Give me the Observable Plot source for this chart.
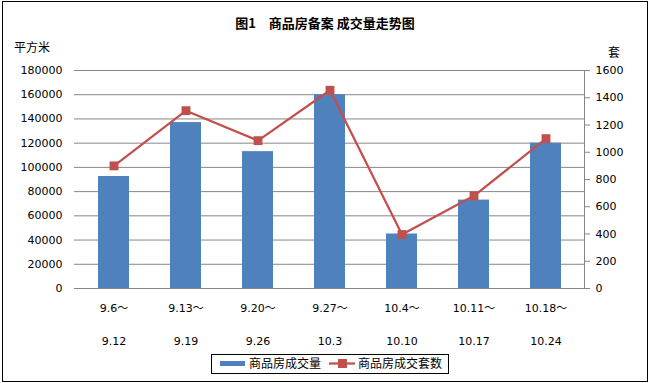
<!DOCTYPE html>
<html>
<head>
<meta charset="utf-8">
<script src="https://cdn.jsdelivr.net/npm/d3@7"></script>
<script src="https://cdn.jsdelivr.net/npm/@observablehq/plot@0.6"></script>
<style>
  html, body { margin: 0; padding: 0; background: #fff; }
  #chart svg { display: block; }
</style>
</head>
<body>
<div id="chart"></div>
<script>
const periodStart = ["9.6～", "9.13～", "9.20～", "9.27～", "10.4～", "10.11～", "10.18～"];
const periodEnd = ["9.12", "9.19", "9.26", "10.3", "10.10", "10.17", "10.24"];
const area = [92500, 137000, 113000, 160000, 45000, 73000, 120000];
const units = [900, 1305, 1085, 1455, 396, 680, 1100];
const leftTicks = [0, 20000, 40000, 60000, 80000, 100000, 120000, 140000, 160000, 180000];
const rightTicks = [0, 200, 400, 600, 800, 1000, 1200, 1400, 1600];
const titleText = "图1　商品房备案 成交量走势图";
const leftUnit = "平方米";
const rightUnit = "套";
const seriesNames = ["商品房成交量", "商品房成交套数"];

const ratio = 180000 / 1600;
const rows = periodStart.map((s, i) => ({key: s + "|" + periodEnd[i], start: s, end: periodEnd[i], area: area[i], units: units[i]}));
const keys = rows.map(d => d.key);

const BLUE = "#4F81BD", RED = "#C0504D", GRID = "#878787";
const FONT = "'DejaVu Sans', 'Noto Sans CJK SC', sans-serif";

const chart = Plot.plot({
  width: 650,
  height: 383,
  marginLeft: 74,
  marginRight: 66,
  marginTop: 70,
  marginBottom: 95,
  style: {fontFamily: FONT, fontSize: "11px", color: "#000", background: "#fff"},
  x: {domain: keys, paddingInner: 0.575, paddingOuter: 0.2875},
  y: {domain: [0, 180000]},
  marks: [
    Plot.ruleY(leftTicks, {stroke: GRID, strokeWidth: 1}),
    Plot.frame({anchor: "right", stroke: GRID}),
    Plot.barY(rows, {x: "key", y: "area", fill: BLUE}),
    Plot.line(rows, {x: "key", y: d => d.units * ratio, stroke: RED, strokeWidth: 2.25}),
    Plot.dot(rows, {x: "key", y: d => d.units * ratio, symbol: "square", r: 5, fill: RED, stroke: "none"}),
    Plot.axisY(leftTicks, {anchor: "left", tickSize: 0, tickPadding: 12, tickFormat: d => String(d), label: null, fontSize: 11}),
    Plot.axisY(rightTicks.map(v => v * ratio), {anchor: "right", tickSize: 5, tickPadding: 6, stroke: GRID, tickFormat: d => String(Math.round(d / ratio)), label: null, fontSize: 11}),
    Plot.axisX({tickSize: 0, tickPadding: 16, tickFormat: k => k.split("|")[0], label: null, fontSize: 11}),
    Plot.axisX({tickSize: 0, tickPadding: 49, tickFormat: k => k.split("|")[1], label: null, fontSize: 11})
  ]
});
document.getElementById("chart").appendChild(chart);

const svg = d3.select(chart);
const CJK = "'Noto Sans CJK SC', sans-serif";
// outer border
svg.append("rect").attr("x", 2.5).attr("y", 1.5).attr("width", 645).attr("height", 380)
  .attr("fill", "none").attr("stroke", "#000").attr("stroke-width", 1);
// title
svg.append("text").attr("x", 325).attr("y", 28).attr("text-anchor", "middle")
  .attr("font-family", CJK).attr("font-weight", "bold").attr("font-size", 13)
  .attr("fill", "#000").text(titleText);
// unit labels
svg.append("text").attr("x", 14).attr("y", 52).attr("text-anchor", "start").attr("font-family", CJK)
  .attr("font-size", 12).attr("fill", "#000").text(leftUnit);
svg.append("text").attr("x", 608).attr("y", 57).attr("text-anchor", "start").attr("font-family", CJK)
  .attr("font-size", 12).attr("fill", "#000").text(rightUnit);
// legend
const lg = svg.append("g").attr("font-family", CJK).attr("font-size", 12).attr("fill", "#000").attr("text-anchor", "start");
lg.append("rect").attr("x", 211.5).attr("y", 354.5).attr("width", 237).attr("height", 19)
  .attr("fill", "#fff").attr("stroke", "#000").attr("stroke-width", 1);
lg.append("rect").attr("x", 220).attr("y", 361).attr("width", 25).attr("height", 5).attr("fill", BLUE);
lg.append("text").attr("x", 249).attr("y", 368).attr("text-anchor", "start").text(seriesNames[0]);
lg.append("line").attr("x1", 329).attr("x2", 355).attr("y1", 363.5).attr("y2", 363.5)
  .attr("stroke", RED).attr("stroke-width", 2.25);
lg.append("rect").attr("x", 338).attr("y", 359).attr("width", 9).attr("height", 9).attr("fill", RED);
lg.append("text").attr("x", 358).attr("y", 368).attr("text-anchor", "start").text(seriesNames[1]);
</script>
</body>
</html>
